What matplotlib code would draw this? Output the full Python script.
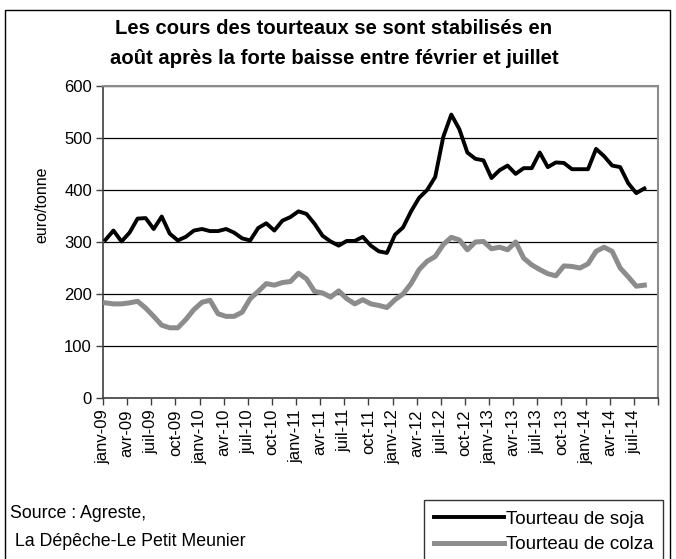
import numpy as np
import matplotlib
matplotlib.use('Agg')
import matplotlib.pyplot as plt
from matplotlib.lines import Line2D
from matplotlib.patches import Rectangle

plt.rcParams['font.family'] = ['Liberation Sans', 'DejaVu Sans']

# monthly prices, janv-09 .. août-14 (euro/tonne)
soja = [304, 322, 301, 318, 345, 346, 325, 349, 316, 303, 310, 322,
        325, 321, 321, 325, 318, 307, 303, 327, 336, 322, 341, 348,
        359, 354, 335, 312, 301, 293, 302, 302, 310, 293, 282, 279,
        314, 328, 359, 385, 400, 425, 502, 545, 517, 472, 460, 457,
        423, 438, 447, 431, 442, 442, 472, 444, 453, 452, 440, 440,
        440, 479, 465, 447, 444, 413, 394, 403]
colza = [183, 181, 181, 183, 186, 173, 157, 140, 135, 135, 151, 170,
         184, 188, 162, 157, 157, 165, 191, 205, 220, 217, 222, 224,
         240, 229, 205, 202, 194, 206, 191, 181, 189, 181, 178, 174,
         189, 200, 220, 247, 263, 272, 295, 309, 304, 285, 300, 301,
         287, 290, 285, 300, 269, 256, 247, 239, 235, 254, 253, 250,
         258, 282, 290, 282, 250, 233, 215, 217]
tick_labels = ['janv-09', 'avr-09', 'juil-09', 'oct-09',
               'janv-10', 'avr-10', 'juil-10', 'oct-10',
               'janv-11', 'avr-11', 'juil-11', 'oct-11',
               'janv-12', 'avr-12', 'juil-12', 'oct-12',
               'janv-13', 'avr-13', 'juil-13', 'oct-13',
               'janv-14', 'avr-14', 'juil-14']

months = np.arange(len(soja)) + 0.3

fig = plt.figure(figsize=(6.76, 5.59), dpi=100)
ax = fig.add_axes([103/676, 1-398/559, 555/676, 312/559])

ax.plot(months, colza, color='#8c8c8c', lw=3.6, solid_joinstyle='round', zorder=3)
ax.plot(months, soja, color='black', lw=2.8, solid_joinstyle='round', zorder=4)

ax.set_xlim(0, 69)
ax.set_ylim(0, 600)
ax.set_yticks(range(0, 601, 100))
ax.yaxis.grid(True, color='black', lw=0.9)
ax.set_axisbelow(True)
ax.set_xticks(range(0, 70, 3))
ax.set_xticklabels(tick_labels + [''], rotation=90, fontsize=12)
ax.tick_params(axis='y', labelsize=12, length=5, width=1, color='#404040', pad=3)
ax.tick_params(axis='x', length=5, width=1, color='#404040', pad=3)
for s in ['top', 'right']:
    ax.spines[s].set_color('#8c8c8c')
    ax.spines[s].set_linewidth(1.5)
ax.spines['left'].set_color('#404040')
ax.spines['bottom'].set_color('#404040')
ax.spines['left'].set_linewidth(1.2)
ax.spines['bottom'].set_linewidth(1.2)
ax.set_ylabel('euro/tonne', fontsize=11.5)
ax.yaxis.set_label_coords(-0.097, 0.62)

fig.text(334/676, 1-28/559, 'Les cours des tourteaux se sont stabilisés en',
         ha='center', va='center', fontsize=14.6, fontweight='bold')
fig.text(334/676, 1-58/559, 'août après la forte baisse entre février et juillet',
         ha='center', va='center', fontsize=14.6, fontweight='bold')

# outer frame
fig.patches.append(Rectangle((5/676, -0.01), 665/676, 1-10/559+0.01,
                             transform=fig.transFigure, fill=False,
                             edgecolor='black', lw=1))

fig.text(10/676, 1-514/559, 'Source : Agreste,', fontsize=12.8, va='center')
fig.text(10/676, 1-541/559, ' La Dépêche-Le Petit Meunier', fontsize=12.8, va='center')

handles = [Line2D([], [], color='black', lw=2.8),
           Line2D([], [], color='#8c8c8c', lw=3.6)]
leg = fig.legend(handles, ['Tourteau de soja', 'Tourteau de colza'],
                 loc='lower left', bbox_to_anchor=(424/676, -0.008),
                 fontsize=13.5, frameon=True, fancybox=False,
                 edgecolor='black', handlelength=3.7, handletextpad=0.1,
                 borderpad=0.55, labelspacing=0.45, borderaxespad=0)
leg.get_frame().set_linewidth(1)

fig.savefig('out.png', dpi=100)
